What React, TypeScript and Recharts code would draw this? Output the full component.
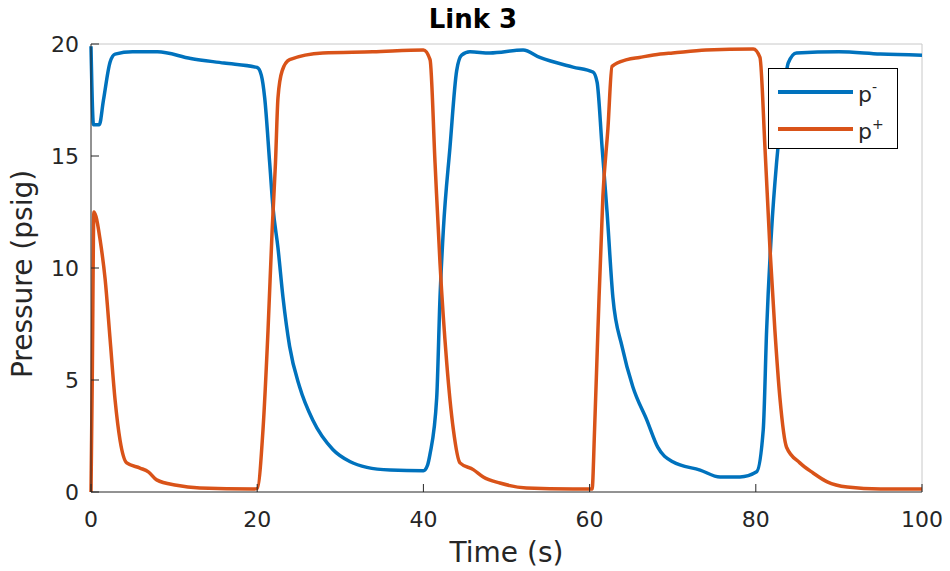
import * as React from "react";
import { Line, LineChart, ReferenceLine, XAxis, YAxis } from "recharts";

// p- (blue) samples: time (s), pressure (psig)
const pMinusT = [
  0, 0.3, 1.0, 1.5, 2.3, 2.9, 5, 8, 12, 16, 20, 20.5, 20.9, 21.5, 21.9, 22.5,
  23.1, 23.9, 25.1, 26.7, 29.1, 31.2, 33.2, 36, 40, 40.5, 40.8, 41.6, 42, 42.4,
  43.2, 44, 44.6, 45.6, 48, 52, 54, 58, 60.4, 60.9, 61.5, 62.1, 62.8, 63.9,
  65.2, 66.9, 68.2, 70, 73.3, 75.7, 78.1, 80.1, 80.9, 81.3, 81.9, 82.5, 83.3,
  83.9, 84.9, 90, 95, 100,
];
const pMinusV = [
  19.9, 16.4, 16.4, 17.5, 19.2, 19.55, 19.65, 19.65, 19.35, 19.15, 18.95,
  18.6, 17.6, 14.7, 12.7, 10.9, 8.7, 6.5, 4.7, 3.2, 1.9, 1.35, 1.1, 0.98,
  0.95, 1.2, 1.7, 4.2, 8.7, 11.7, 15.4, 18.8, 19.5, 19.65, 19.6, 19.73, 19.4,
  18.97, 18.75, 18.3, 15.4, 12.5, 8.7, 6.5, 4.7, 3.2, 2.0, 1.35, 0.98, 0.67,
  0.67, 0.9, 2.8, 7.2, 11.7, 14.7, 17.6, 19.15, 19.6, 19.65, 19.55, 19.5,
];

// p+ (red) samples
const pPlusT = [
  0, 0.15, 0.35, 0.6, 1.1, 1.7, 2.3, 2.9, 3.5, 4.3, 5.9, 6.9, 7.9, 10.3,
  13.1, 19.5, 20, 20.7, 21.3, 21.8, 22.2, 22.5, 23, 23.9, 27.9, 33.9, 40,
  40.8, 41.4, 42, 42.8, 43.6, 44.4, 46, 47.2, 49.2, 52.4, 58, 60.3, 60.6, 61,
  61.6, 62.2, 62.7, 64.5, 66, 68.5, 70, 74, 79.7, 80.5, 81.1, 81.7, 82.3,
  82.9, 83.7, 85.3, 86.9, 88.6, 91, 95, 100,
];
const pPlusV = [
  0, 5, 12.5, 12.3, 11.25, 9.5, 6.8, 4.1, 2.3, 1.3, 1.07, 0.9, 0.54, 0.3,
  0.18, 0.13, 0.15, 2.8, 7.2, 11.7, 14.7, 17.6, 18.8, 19.3, 19.6, 19.65,
  19.73, 19.3, 14.7, 10.2, 5.8, 2.8, 1.3, 1.0, 0.67, 0.4, 0.18, 0.13, 0.13,
  2.8, 7.2, 13.2, 16.2, 19.0, 19.3, 19.4, 19.55, 19.6, 19.73, 19.78, 19.4,
  15.4, 10.9, 7.2, 4.2, 2.0, 1.3, 0.85, 0.45, 0.22, 0.13, 0.13,
];

const xTicks = [0, 20, 40, 60, 80, 100];
const yTicks = [0, 5, 10, 15, 20];

const pMinus = pMinusT.map((t, i) => ({ t, v: pMinusV[i] }));
const pPlus = pPlusT.map((t, i) => ({ t, v: pPlusV[i] }));

const FONT = "DejaVu Sans";
const TEXT = "#262626";
const BLUE = "#0072BD";
const RED = "#D95319";

const series = [
  { key: "minus", data: pMinus, color: BLUE, sup: "-" },
  { key: "plus", data: pPlus, color: RED, sup: "+" },
];

const XTick = (props: any) => {
  const { x, y, payload } = props;
  return (
    <g>
      <line x1={x} x2={x} y1={y} y2={y - 8} stroke={TEXT} strokeWidth={1} />
      <text x={x} y={y + 35} textAnchor="middle" fontSize={22} fontFamily={FONT} fill={TEXT}>
        {payload.value}
      </text>
    </g>
  );
};

const YTick = (props: any) => {
  const { x, y, payload } = props;
  return (
    <g>
      <line x1={x} x2={x + 8} y1={y} y2={y} stroke={TEXT} strokeWidth={1} />
      <text x={x - 12} y={y} dy="0.36em" textAnchor="end" fontSize={22} fontFamily={FONT} fill={TEXT}>
        {payload.value}
      </text>
    </g>
  );
};

const LegendBox = () => (
  <div
    style={{
      position: "absolute",
      left: 768,
      top: 68,
      width: 128,
      height: 79,
      border: "1px solid #000",
      background: "#fff",
      fontFamily: FONT,
      color: TEXT,
      zIndex: 2,
    }}
  >
    {series.map((s, i) => (
      <div key={s.key} style={{ position: "absolute", left: 9, top: 21 + i * 37, height: 4, width: 75, background: s.color }}>
        <span style={{ position: "absolute", left: 80, top: -14, fontSize: 22, lineHeight: "22px", whiteSpace: "nowrap" }}>
          p<sup style={{ fontSize: 14, verticalAlign: "10px" }}>{s.sup}</sup>
        </span>
      </div>
    ))}
  </div>
);

export default function App() {
  return (
    <div style={{ position: "absolute", left: 0, top: 0, width: 950, height: 571, background: "#fff" }}>
      <div
        style={{
          position: "absolute",
          left: 373,
          width: 200,
          top: 4,
          textAlign: "center",
          fontFamily: FONT,
          fontWeight: "bold",
          fontSize: 26,
          color: "#000",
          zIndex: 2,
        }}
      >
        Link 3
      </div>
      <LegendBox />
      <LineChart width={950} height={571} margin={{ top: 44, right: 28, bottom: 19, left: 31 }}>
        <XAxis
          dataKey="t"
          type="number"
          domain={[0, 100]}
          ticks={xTicks}
          height={60}
          tickSize={0}
          tickMargin={0}
          tick={<XTick />}
          axisLine={{ stroke: TEXT, strokeWidth: 1 }}
          allowDuplicatedCategory={false}
          label={{ value: "Time (s)", position: "insideBottom", offset: -10, fontSize: 28, fontFamily: FONT, fill: TEXT }}
        />
        <YAxis
          type="number"
          domain={[0, 20]}
          ticks={yTicks}
          width={60}
          tickSize={0}
          tickMargin={0}
          tick={<YTick />}
          axisLine={{ stroke: TEXT, strokeWidth: 1 }}
          label={{
            content: (lp: any) => {
              const vb = lp.viewBox || { y: 44, height: 448 };
              const cx = 32;
              const cy = vb.y + vb.height / 2 + 6;
              return (
                <text
                  x={cx}
                  y={cy}
                  transform={`rotate(-90, ${cx}, ${cy})`}
                  textAnchor="middle"
                  fontSize={28}
                  fontFamily={FONT}
                  fill={TEXT}
                >
                  Pressure (psig)
                </text>
              );
            },
          }}
        />
        <ReferenceLine y={20} stroke="#c8c8c8" strokeWidth={1} />
        <ReferenceLine x={100} stroke="#c8c8c8" strokeWidth={1} />
        {series.map((s) => (
          <Line
            key={s.key}
            data={s.data}
            dataKey="v"
            type="monotone"
            stroke={s.color}
            strokeWidth={3.5}
            dot={false}
            isAnimationActive={false}
          />
        ))}
      </LineChart>
    </div>
  );
}
